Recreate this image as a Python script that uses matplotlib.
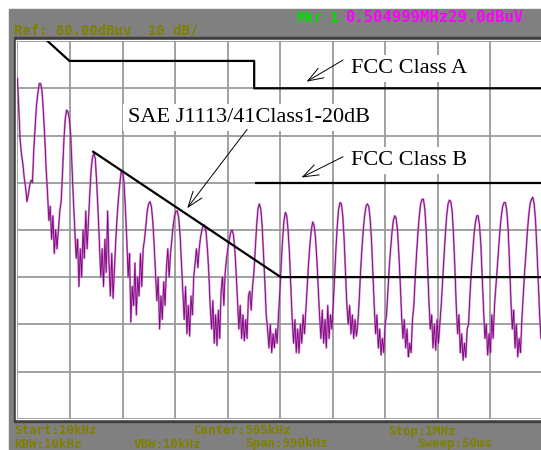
import numpy as np
import matplotlib.pyplot as plt
from matplotlib.patches import Rectangle

# sweep: 10 kHz .. 1 MHz, ref 80 dBuV, 10 dB/div
f_start, f_stop = 10, 1000
ref_db, db_div = 80, 10
sweep_step_khz = 2.575

# measured trace (dBuV), one row per harmonic lobe
trace_db = [
    72.1, 66, 59, 56, 54, 51, 49, 46, 47.5, 49.5,
    50.5, 50, 57, 62, 66.5, 69, 71, 71, 69.5, 65, 59.7, 53, 48, 42, 45, 38, 43, 35, 40, 36,
    40, 44, 46, 52, 59, 63.5, 65.4, 65, 63.5, 60, 53, 46, 40, 34, 38, 28, 36, 30, 40, 34,
    44, 36, 42, 48, 53, 55.5, 56.3, 55, 50, 44, 37, 30, 36, 28, 38, 31, 44, 33, 26, 35,
    25.5, 32, 38, 43, 47, 50, 52.5, 52.5, 50, 44.5, 38, 30, 35, 20.5, 28, 24, 33, 22, 30, 26,
    35, 28, 36, 38, 41, 44, 45.5, 46, 45, 42, 37, 31, 25, 30, 19, 26, 21, 29, 24, 32,
    36, 30, 35, 38, 41, 43, 44, 44, 42.5, 39, 33, 27, 21, 28, 18, 24, 17.5, 26, 22, 30,
    33, 36, 32, 36, 38.5, 40, 41, 41, 39.5, 36, 31, 24, 19, 25, 16, 22, 15.5, 23, 17, 27,
    30, 24, 31, 34, 36, 38, 39.5, 40, 39, 36, 31, 25, 19, 24, 17, 22, 16.5, 21, 17, 26,
    27, 23, 28, 31, 36, 41, 44.5, 45.5, 44.5, 41, 35, 29, 22, 19, 15, 20, 14, 18, 15, 19,
    16, 22, 27, 33, 38, 42, 43.7, 43, 40, 35, 28, 21, 16, 21, 14, 19, 13.9, 20, 16, 22,
    18, 23, 28, 33, 37, 40, 41.7, 41, 38.5, 34, 28, 22, 17, 23, 16, 21, 15, 24, 17, 22,
    19, 24, 30, 36, 41, 44.5, 45.8, 45.5, 43, 38, 31, 24, 20, 24, 18, 22, 17, 21, 17.5, 20,
    25, 31, 36, 40, 43, 45, 45.5, 45, 42.5, 38, 31, 24, 18, 22, 15, 19, 13.5, 17, 14, 20,
    22, 27, 32, 36, 39.5, 42, 43, 42.5, 40, 35, 29, 22, 17, 21, 15, 19, 13.1, 16, 14, 21,
    24, 30, 35, 39.5, 43, 45.5, 46.5, 46.5, 44.5, 40, 33, 25, 19, 22, 15, 20, 14.5, 21, 16, 20,
    24, 29, 34, 39, 43, 45.5, 46.3, 46, 44, 39, 32, 24, 18, 22, 14, 18, 12.4, 16, 13, 19,
    20, 26, 31, 35, 39, 41.5, 43, 43, 41, 37, 30, 23, 17, 20, 13.5, 18, 14, 22, 17, 24,
    28, 32, 36, 40, 43, 45, 45.8, 45.8, 44, 40, 33, 25, 19, 23, 15, 20, 13.1, 17, 14, 21,
    26, 31, 35, 39.5, 43, 45.5, 46.5, 46.9, 45.5, 42, 36, 29, 22, 17, 20, 15, 18, 14, 19, 16,
]

# limit lines (kHz, dBuV)
fcc_a_khz = [63, 108, 456, 456, 1000]
fcc_a_db = [80.4, 75.8, 75.8, 70, 70]
fcc_b_khz = [457, 1000]
fcc_b_db = [50, 50]
sae_khz = [151, 506, 1000]
sae_db = [56.7, 30, 30]

trace_khz = f_start + sweep_step_khz * np.arange(len(trace_db))

W, H = 541, 450
fig = plt.figure(figsize=(W / 100, H / 100), dpi=100)

# instrument panel in pixel coordinates
bg = fig.add_axes([0, 0, 1, 1], zorder=0)
bg.set_xlim(0, W)
bg.set_ylim(H, 0)
bg.axis('off')
bg.add_patch(Rectangle((8.5, 8.5), W, H, color='#808080'))
bg.add_patch(Rectangle((14, 37.3), 540, 384.4, color='#404040'))
bg.add_patch(Rectangle((16, 39.5), 540, 379.8, color='white'))

mono = dict(family='DejaVu Sans Mono', fontweight='bold', va='baseline')
olive = '#7f7f00'
bg.text(13.5, 34.5, 'Ref: 80.00dBuv  10 dB/', color=olive, fontsize=10, **mono)
bg.text(297, 22, 'Mkr 1', color='#00e000', fontsize=10, **mono)
bg.text(345, 22, '0.504999MHz29.0dBuV', color='#ff00ff', fontsize=11.2, **mono)
foot = dict(color=olive, fontsize=9, **mono)
bg.text(14, 434.5, 'Start:10kHz', **foot)
bg.text(193, 434.5, 'Center:505kHz', **foot)
bg.text(388, 434.5, 'Stop:1MHz', **foot)
bg.text(14, 447.5, 'RBW:10kHz', **foot)
bg.text(134, 447.5, 'VBW:10kHz', **foot)
bg.text(245, 447.5, 'Span:990kHz', **foot)
bg.text(417, 447.5, 'Sweep:50ms', **foot)

# graticule
x0, x1 = 17.4, 543.0
y_top, y_bot = 41.1, 418.7
ax = fig.add_axes([x0 / W, 1 - y_bot / H, (x1 - x0) / W, (y_bot - y_top) / H], zorder=1)
ax.set_facecolor('none')
ax.set_xlim(f_start, f_stop)
ax.set_ylim(ref_db - 8 * db_div, ref_db)
ax.set_xticks(np.linspace(f_start, f_stop, 11))
ax.set_yticks(np.arange(0, ref_db + 1, db_div))
ax.tick_params(length=0, labelbottom=False, labelleft=False)
ax.grid(True, color='#9a9a9a', lw=1.3)
for s in ax.spines.values():
    s.set_visible(False)

ax.plot(trace_khz, trace_db, color='#c070c0', lw=1.5, alpha=0.8)
ax.plot(trace_khz, trace_db, color='#80007f', lw=0.6)

for xs, ys in [(fcc_a_khz, fcc_a_db), (fcc_b_khz, fcc_b_db), (sae_khz, sae_db)]:
    ax.plot(xs, ys, color='black', lw=1.6, solid_capstyle='butt')

serif = dict(family='Liberation Serif', fontsize=16, va='baseline',
             bbox=dict(fc='white', ec='none', pad=3), zorder=5)
ax.text(639, 73.2, 'FCC Class A', **serif)
ax.text(639, 53.75, 'FCC Class B', **serif)
ax.text(217.6, 62.9, 'SAE J1113/41Class1-20dB', **serif)

arrow = dict(arrowstyle='->,head_length=0.7,head_width=0.25', color='black', lw=0.7,
             mutation_scale=16, shrinkA=0, shrinkB=0)
ax.annotate('', xy=(554.5, 71.4), xytext=(623.4, 76.0), arrowprops=arrow, zorder=6)
ax.annotate('', xy=(545.1, 51.1), xytext=(623.4, 55.5), arrowprops=arrow, zorder=6)
ax.annotate('', xy=(329.8, 44.6), xytext=(442.7, 61.3), arrowprops=arrow, zorder=6)

fig.savefig('out.png', dpi=100)
